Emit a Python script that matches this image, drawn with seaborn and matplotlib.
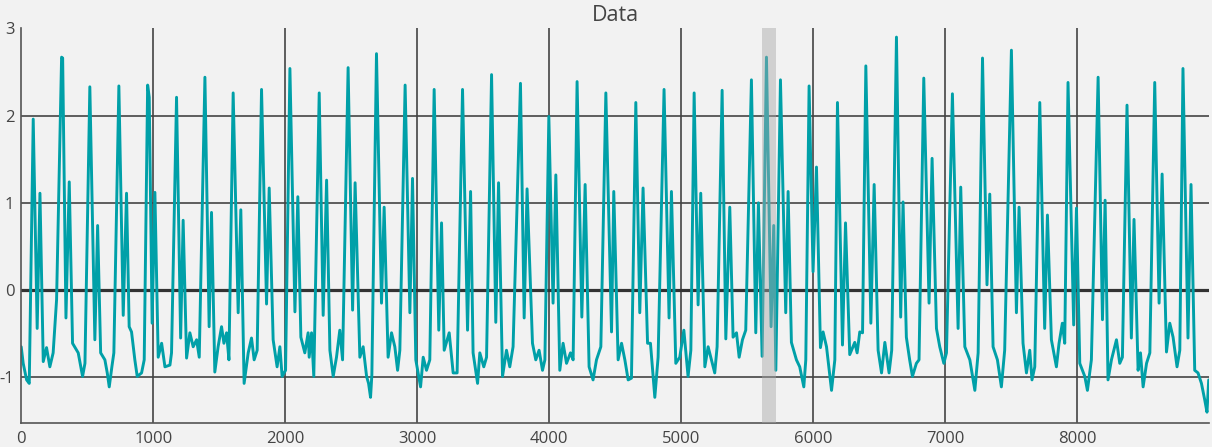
import matplotlib
matplotlib.use("Agg")
import matplotlib.pyplot as plt
import seaborn as sns

# keypoints of the trace (sample index, value)
t = [0, 15, 41, 61, 91, 121, 142, 167, 192, 217, 242, 268, 306, 314, 339, 364, 389, 432, 465, 483,
     520, 558, 579, 602, 634, 652, 667, 687, 702, 740, 773, 798, 818, 836, 861, 879, 912, 932,
     958, 970, 992, 1013, 1038, 1064, 1089, 1127, 1139, 1177, 1208, 1227, 1253, 1278, 1303, 1329, 1349,
     1392, 1424, 1442, 1467, 1492, 1518, 1536, 1556, 1574, 1606, 1644, 1664, 1689, 1720, 1745, 1765, 1788,
     1821, 1859, 1879, 1909, 1939, 1960, 1977, 2003, 2036, 2074, 2096, 2119, 2149, 2174, 2182, 2200, 2217,
     2258, 2288, 2314, 2339, 2364, 2389, 2414, 2435, 2477, 2511, 2530, 2566, 2591, 2617, 2632, 2647, 2657,
     2692, 2730, 2750, 2780, 2806, 2831, 2852, 2869, 2909, 2945, 2965, 2990, 3026, 3046, 3071, 3096,
     3129, 3164, 3185, 3205, 3243, 3273, 3303, 3344, 3382, 3405, 3424, 3458, 3475, 3505, 3526,
     3564, 3596, 3617, 3647, 3677, 3702, 3727, 3783, 3811, 3833, 3874, 3899, 3924, 3950, 3968,
     3998, 4030, 4051, 4081, 4106, 4132, 4162, 4182, 4212, 4248, 4273, 4303, 4333, 4359, 4392,
     4430, 4473, 4490, 4523, 4549, 4574, 4599, 4624, 4657, 4687, 4712, 4746, 4768, 4801, 4826,
     4871, 4909, 4927, 4960, 4990, 5021, 5053, 5074, 5099, 5129, 5149, 5180, 5205, 5230, 5255, 5273,
     5311, 5339, 5369, 5394, 5420, 5440, 5465, 5490, 5533, 5566, 5586, 5614, 5647, 5682, 5702, 5718,
     5753, 5793, 5811, 5836, 5874, 5899, 5914, 5930, 5945, 5970, 6000, 6026, 6056, 6076, 6102, 6140, 6165,
     6185, 6223, 6246, 6278, 6316, 6334, 6354, 6375, 6400, 6438, 6463, 6493, 6519, 6544, 6576, 6596,
     6632, 6664, 6682, 6707, 6732, 6753, 6783, 6803, 6839, 6879, 6902, 6935, 6960, 6991, 7011,
     7056, 7099, 7119, 7150, 7188, 7226, 7251, 7284, 7318, 7339, 7364, 7397, 7427, 7452,
     7503, 7541, 7561, 7591, 7617, 7642, 7659, 7680, 7718, 7755, 7776, 7806, 7844, 7864, 7889, 7907,
     7932, 7975, 7996, 8021, 8059, 8079, 8109, 8160, 8193, 8213, 8235, 8261, 8299, 8324, 8344,
     8379, 8412, 8432, 8463, 8481, 8501, 8527, 8552, 8589, 8622, 8645, 8678, 8703, 8728, 8758, 8779,
     8803, 8841, 8864, 8892, 8917, 8943, 8968, 8985, 8998]
v = [-0.65, -0.84, -1.03, -1.07, 1.96, -0.44, 1.11, -0.82, -0.66, -0.88, -0.72, -0.11, 2.67, 2.66, -0.32, 1.24, -0.61, -0.72, -0.99, -0.84,
     2.33, -0.57, 0.74, -0.72, -0.80, -0.95, -1.11, -0.88, -0.72, 2.34, -0.29, 1.11, -0.42, -0.48, -0.80, -0.99, -0.95, -0.80,
     2.35, 2.21, -0.38, 1.12, -0.77, -0.61, -0.88, -0.86, -0.72, 2.21, -0.55, 0.80, -0.78, -0.49, -0.65, -0.57, -0.77,
     2.44, -0.42, 0.89, -0.94, -0.65, -0.42, -0.61, -0.49, -0.80, 2.26, -0.26, 0.92, -1.07, -0.72, -0.55, -0.80, -0.69,
     2.30, -0.16, 1.17, -0.57, -0.88, -0.65, -0.99, -0.92, 2.54, -0.25, 1.07, -0.54, -0.72, -0.49, -0.77, -0.49, -0.99,
     2.26, -0.29, 1.26, -0.69, -0.99, -0.77, -0.46, -0.80, 2.55, -0.23, 1.23, -0.77, -0.65, -0.99, -1.07, -1.23, -0.97,
     2.71, -0.15, 0.95, -0.77, -0.49, -0.65, -0.92, -0.69, 2.35, -0.26, 1.28, -0.80, -1.11, -0.77, -0.92, -0.80,
     2.30, -0.46, 0.77, -0.69, -0.49, -0.95, -0.95, 2.30, -0.46, 1.13, -0.72, -1.07, -0.72, -0.88, -0.77,
     2.47, -0.37, 1.23, -0.99, -0.69, -0.88, -0.65, 2.37, -0.32, 1.16, -0.61, -0.80, -0.69, -0.92, -0.80,
     1.99, -0.15, 1.32, -0.92, -0.61, -0.84, -0.72, -0.80, 2.39, -0.31, 1.21, -0.88, -1.03, -0.80, -0.65,
     2.26, -0.48, 1.13, -0.80, -0.61, -0.80, -1.03, -1.01, 2.15, -0.26, 1.17, -0.61, -0.61, -1.23, -0.77,
     2.30, -0.32, 1.13, -0.84, -0.77, -0.46, -0.99, -0.69, 2.26, -0.17, 1.11, -0.88, -0.65, -0.80, -0.95, -0.65,
     2.29, -0.56, 0.95, -0.54, -0.49, -0.77, -0.57, -0.46, 2.41, -0.49, 1.00, -0.76, 2.67, -0.42, 0.74, -0.92,
     2.41, -0.26, 1.13, -0.60, -0.80, -0.88, -0.99, -1.11, -0.80, 2.34, 0.21, 1.41, -0.66, -0.48, -0.65, -1.15, -0.80,
     2.15, -0.63, 0.77, -0.74, -0.60, -0.72, -0.48, -0.49, 2.57, -0.38, 1.21, -0.69, -0.95, -0.60, -0.95, -0.69,
     2.90, -0.31, 1.01, -0.54, -0.80, -0.99, -0.84, -0.80, 2.43, -0.15, 1.51, -0.44, -0.65, -0.84, -0.72,
     2.25, -0.44, 1.18, -0.65, -0.80, -1.15, -0.72, 2.66, 0.06, 1.10, -0.65, -0.80, -1.11, -0.69,
     2.75, -0.26, 0.95, -0.61, -0.95, -0.69, -1.03, -0.88, 2.15, -0.44, 0.86, -0.57, -0.88, -0.61, -0.38, -0.61,
     2.38, -0.40, 0.94, -0.84, -0.99, -1.15, -0.80, 2.44, -0.34, 1.03, -1.03, -0.80, -0.57, -0.84, -0.77,
     2.12, -0.55, 0.81, -0.92, -0.72, -1.11, -0.84, -0.72, 2.38, -0.15, 1.33, -0.71, -0.38, -0.54, -0.88, -0.69,
     2.54, -0.55, 1.21, -0.92, -0.95, -1.07, -1.26, -1.40, -1.03]

highlight = (5611, 5718)
xticks = [0, 1000, 2000, 3000, 4000, 5000, 6000, 7000, 8000]
yticks = [-1, 0, 1, 2, 3]

sns.set_style("white")
plt.rcParams["font.family"] = ["Open Sans", "DejaVu Sans"]
plt.rcParams["axes.unicode_minus"] = False

fig = plt.figure(figsize=(12.12, 4.47), dpi=100, facecolor="#f2f2f2")
ax = fig.add_axes([0.0175, 0.0545, 0.98, 0.882])
ax.set_facecolor("#f2f2f2")

for x in xticks[1:]:
    ax.axvline(x, color="#444444", lw=1.2, zorder=1)
for y in [-1, 1, 2]:
    ax.axhline(y, color="#444444", lw=1.2, zorder=1)
ax.axhline(0, color="#333333", lw=2.3, zorder=1)

sns.lineplot(x=t, y=v, ax=ax, color="#00a0a8", linewidth=2.1, estimator=None, zorder=2)
ax.axvspan(*highlight, color="#a8a8a8", alpha=0.45, lw=0, zorder=3)

ax.set_xlim(0, 9000)
ax.set_ylim(-1.52, 3)
ax.set_xticks(xticks)
ax.set_yticks(yticks)
ax.tick_params(length=0, labelsize=12, labelcolor="#444444")
ax.tick_params(axis="x", pad=6)
ax.tick_params(axis="y", pad=5)
for s in ["top", "right"]:
    ax.spines[s].set_visible(False)
for s in ["left", "bottom"]:
    ax.spines[s].set_color("#555555")
    ax.spines[s].set_linewidth(1.2)
ax.set_xlabel("")
ax.set_ylabel("")
ax.set_title("Data", fontsize=15.5, color="#444444", pad=5)

fig.savefig("out.png", dpi=100, facecolor="#f2f2f2")
